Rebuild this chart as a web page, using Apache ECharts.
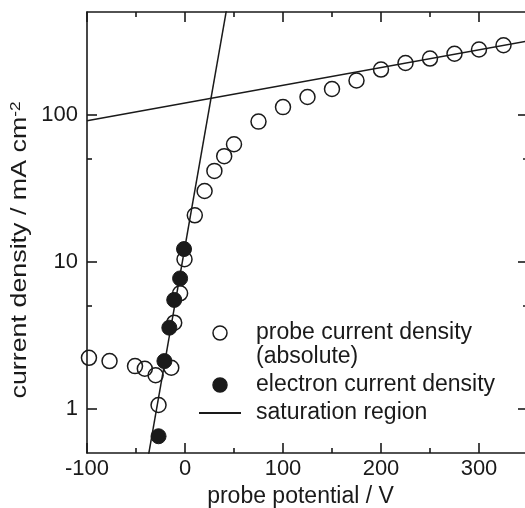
<!DOCTYPE html>
<html><head><meta charset="utf-8">
<script src="https://cdn.jsdelivr.net/npm/echarts@6/dist/echarts.min.js"></script>
<style>html,body{margin:0;padding:0;background:#fff}#c{width:525px;height:508px}</style>
</head><body><div id="c"></div>
<script>
const FONT = '"Liberation Sans", Arial, Helvetica, sans-serif';
const INK = '#1a1a1a';

// probe current density (absolute): potential / V, current density / mA cm^-2
const probeV = [-98, -77, -51, -41, -30, -27, -14, -11, -5, -0.5, 10, 20, 30, 40, 50, 75, 100, 125, 150, 175, 200, 225, 250, 275, 300, 325];
const probeJ = [2.22, 2.11, 1.95, 1.87, 1.69, 1.06, 1.90, 3.85, 6.1, 10.4, 20.7, 30.3, 41.5, 52.3, 63, 89.8, 112.7, 132, 149.6, 171, 203, 225, 241, 260, 278, 297];
// electron current density
const electronV = [-27, -21, -16, -11, -5, -1];
const electronJ = [0.65, 2.11, 3.56, 5.5, 7.7, 12.2];
// saturation region fits (end points)
const satSteepV = [-40, 45];
const satSteepJ = [0.38, 653];
const satShallowV = [-100, 350];
const satShallowJ = [91, 318];
// ticks
const xMajorTicks = [-100, 0, 100, 200, 300];
const xMinorTicks = [-50, 50, 150, 250];
const yMajorTicks = [1, 10, 100];
const yMinorTicks = [5, 50];

const probeName = 'probe current density\n(absolute)';
const electronName = 'electron current density';
const satName = 'saturation region';
const xTitle = 'probe potential / V';
const yTitle = 'current density / mA cm{sup|-2}';

const zip = (a, b) => a.map((v, i) => [v, b[i]]);

function xAxis(pos, ticks, len, showLine, showLabel) {
  return {
    type: 'value', min: -100, max: 350, position: pos,
    axisLine: { show: showLine, onZero: false, lineStyle: { color: INK, width: 1.6 } },
    axisTick: { show: true, inside: true, length: len, customValues: ticks, lineStyle: { color: INK, width: 1.6 } },
    axisLabel: showLabel ? { show: true, customValues: ticks, margin: 5, fontFamily: FONT, fontSize: 22, color: INK } : { show: false },
    splitLine: { show: false }
  };
}
function yAxis(pos, ticks, len, showLine, showLabel) {
  return {
    type: 'log', logBase: 10, min: 0.5, max: 500, position: pos,
    axisLine: { show: showLine, onZero: false, lineStyle: { color: INK, width: 1.6 } },
    axisTick: { show: true, inside: true, length: len, customValues: ticks, lineStyle: { color: INK, width: 1.6 } },
    axisLabel: showLabel ? { show: true, customValues: ticks, margin: 9, fontFamily: FONT, fontSize: 22, color: INK } : { show: false },
    splitLine: { show: false }, minorTick: { show: false }
  };
}

const xs = [
  xAxis('bottom', xMajorTicks, 10, true, true),
  xAxis('bottom', xMinorTicks, 5, false, false),
  xAxis('top', xMajorTicks, 10, true, false),
  xAxis('top', xMinorTicks, 5, false, false)
];
Object.assign(xs[0], {
  name: xTitle, nameLocation: 'middle', nameGap: 24,
  nameTextStyle: { fontFamily: FONT, fontSize: 23, color: INK, padding: [0, 14, 0, 0] }
});
const ys = [
  yAxis('left', yMajorTicks, 10, true, true),
  yAxis('left', yMinorTicks, 5, false, false),
  yAxis('right', yMajorTicks, 10, true, false),
  yAxis('right', yMinorTicks, 5, false, false)
];

const chart = echarts.init(document.getElementById('c'), null, { renderer: 'canvas' });
chart.setOption({
  backgroundColor: '#fff',
  animation: false,
  grid: { left: 87, right: -3, top: 12, bottom: 55, outerBoundsMode: 'none' },
  xAxis: xs,
  yAxis: ys,
  graphic: [{
    type: 'text', x: 20, y: 250, rotation: Math.PI / 2, scaleX: 1.22,
    style: {
      text: yTitle, fill: INK, fontFamily: FONT, fontSize: 22, align: 'center', verticalAlign: 'middle',
      rich: { sup: { fontFamily: FONT, fontSize: 14, fill: INK, verticalAlign: 'top', lineHeight: 14 } }
    }
  }],
  legend: {
    orient: 'vertical', left: 198, top: 297, padding: 0, itemGap: 4,
    itemWidth: 42, itemHeight: 14, selectedMode: false,
    itemStyle: { borderWidth: 1.5 },
    textStyle: { fontFamily: FONT, fontSize: 23, color: INK, lineHeight: 24, padding: [0, 0, 0, 10] },
    formatter: name => (name === probeName ? '\n' + name : name),
    data: [
      { name: probeName },
      { name: electronName },
      { name: satName, itemStyle: { opacity: 0 } }
    ]
  },
  series: [
    {
      name: probeName, type: 'scatter', xAxisIndex: 0, yAxisIndex: 0,
      symbol: 'circle', symbolSize: 15,
      itemStyle: { color: 'rgba(255,255,255,0)', borderColor: INK, borderWidth: 1.5, opacity: 1 },
      data: zip(probeV, probeJ), z: 3
    },
    {
      name: electronName, type: 'scatter', xAxisIndex: 0, yAxisIndex: 0,
      symbol: 'circle', symbolSize: 15,
      itemStyle: { color: INK, borderColor: INK, borderWidth: 1, opacity: 1 },
      data: zip(electronV, electronJ), z: 4
    },
    {
      name: satName, type: 'line', xAxisIndex: 0, yAxisIndex: 0,
      symbol: 'none', clip: true, lineStyle: { color: INK, width: 1.5 }, itemStyle: { color: INK },
      data: zip(satSteepV, satSteepJ), z: 2
    },
    {
      name: satName, type: 'line', xAxisIndex: 0, yAxisIndex: 0,
      symbol: 'none', clip: true, lineStyle: { color: INK, width: 1.5 }, itemStyle: { color: INK },
      data: zip(satShallowV, satShallowJ), z: 2
    }
  ]
});
</script>
</body></html>
